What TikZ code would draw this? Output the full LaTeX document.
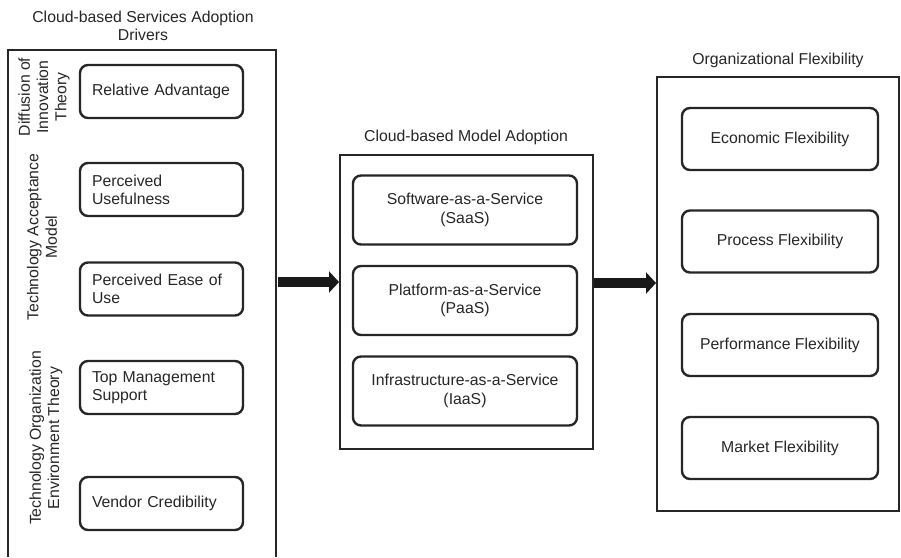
\documentclass[tikz,border=0pt]{standalone}
\usepackage{fontspec}
\setmainfont{Liberation Sans}
\usetikzlibrary{arrows.meta}
\begin{document}
\begin{tikzpicture}[x=1pt,y=-1pt,
  every node/.style={font=\fontsize{15.8}{18.3}\selectfont, text=black!85},
  outerbox/.style={draw=black!85, line width=2pt, minimum width=#1},
  lbox/.style={draw=black!85, line width=2.4pt, rounded corners=8pt, minimum width=163pt, minimum height=53pt, text width=139pt, inner xsep=12pt, align=left},
  mbox/.style={draw=black!85, line width=2.4pt, rounded corners=8pt, minimum width=224pt, minimum height=69pt, align=center},
  rbox/.style={draw=black!85, line width=2.4pt, rounded corners=8pt, minimum width=196pt, minimum height=62pt, align=center},
  sidelabel/.style={rotate=90, align=center},
  heading/.style={align=center},
  bigarrow/.style={draw=black!90, line width=10pt, -{Triangle[length=10pt,width=21pt]}}
]
\useasboundingbox (0,0) rectangle (901,557);

% outer containers
\node[minimum width=268pt, minimum height=507pt, inner sep=0pt] (drv) at (142,303.5) {};
\draw[draw=black!85, line width=2pt] (drv.south west) |- (drv.north east) -- (drv.south east);
\node[draw=black!85, line width=2pt, minimum width=253pt, minimum height=294pt, inner sep=0pt] (mid) at (466.5,302) {};
\node[draw=black!85, line width=2pt, minimum width=242pt, minimum height=434pt, inner sep=0pt] (flex) at (778,294) {};

% headings
\node[heading] (t1) at (143,26) {Cloud-based Services Adoption\\Drivers};
\node[heading] (t2) at (466,137) {Cloud-based Model Adoption};
\node[heading] (t3) at (778,60) {Organizational Flexibility};

% side labels
\node[sidelabel] (dit) at (44,97) {Diffusion of\\Innovation\\Theory};
\node[sidelabel] (tam) at (42,237) {Technology Acceptance\\Model};
\node[sidelabel] (toe) at (46,438) {Technology Organization\\Environment Theory};

% left boxes
\node[lbox] (ra) at (161.5,91.5) {Relative Advantage};
\node[lbox] (pu) at (161.5,189.5) {Perceived\\Usefulness};
\node[lbox] (peu) at (161.5,289) {Perceived Ease of\\Use};
\node[lbox] (tms) at (161.5,387.5) {Top Management\\Support};
\node[lbox] (vc) at (161.5,503.5) {Vendor Credibility};

% middle boxes
\node[mbox] (saas) at (465,210) {Software-as-a-Service\\(SaaS)};
\node[mbox] (paas) at (465,300.5) {Platform-as-a-Service\\(PaaS)};
\node[mbox] (iaas) at (465,391) {Infrastructure-as-a-Service\\(IaaS)};

% right boxes
\node[rbox] (ef) at (780,139) {Economic Flexibility};
\node[rbox] (pf) at (780,241.5) {Process Flexibility};
\node[rbox] (perf) at (780,345) {Performance Flexibility};
\node[rbox] (mf) at (780,448) {Market Flexibility};

% arrows
\coordinate (y1) at (0,282);
\coordinate (y2) at (0,283);
\draw[bigarrow, shorten <=2pt] (drv.east |- y1) -- (mid.west |- y1);
\draw[bigarrow] (mid.east |- y2) -- (flex.west |- y2);
\end{tikzpicture}
\end{document}
